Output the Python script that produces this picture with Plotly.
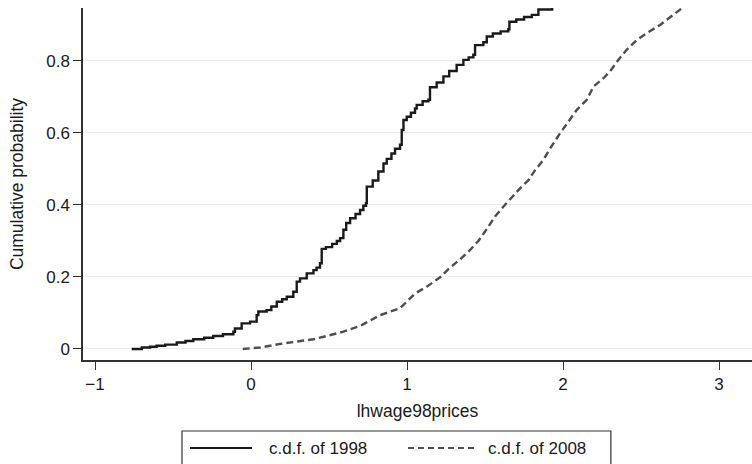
import plotly.graph_objects as go

x_1998 = [-0.765, -0.70, -0.647, -0.605, -0.55, -0.476, -0.42, -0.37, -0.30, -0.242,
          -0.18, -0.113, -0.103, -0.06, -0.006, 0.036, 0.047, 0.10, 0.13, 0.165,
          0.20, 0.229, 0.271, 0.293, 0.314, 0.357, 0.40, 0.42, 0.442, 0.453,
          0.48, 0.52, 0.55, 0.571, 0.592, 0.61, 0.635, 0.67, 0.699, 0.72, 0.737, 0.742,
          0.78, 0.816, 0.849, 0.87, 0.90, 0.923, 0.955, 0.966, 0.977, 0.998, 1.025, 1.051,
          1.062, 1.10, 1.137, 1.147, 1.19, 1.233, 1.27, 1.318, 1.361, 1.395, 1.425,
          1.436, 1.489, 1.511, 1.55, 1.60, 1.649, 1.656, 1.70, 1.75, 1.80,
          1.842, 1.93, 2.05, 2.25, 2.50]
y_1998 = [0.0, 0.004, 0.006, 0.009, 0.012, 0.018, 0.022, 0.027, 0.031, 0.036,
          0.041, 0.048, 0.057, 0.071, 0.076, 0.094, 0.104, 0.108, 0.118, 0.131,
          0.138, 0.145, 0.159, 0.187, 0.196, 0.210, 0.219, 0.226, 0.238, 0.278,
          0.283, 0.292, 0.300, 0.308, 0.331, 0.350, 0.363, 0.375, 0.386, 0.398, 0.405, 0.451,
          0.468, 0.493, 0.515, 0.528, 0.543, 0.556, 0.567, 0.608, 0.636, 0.645, 0.656, 0.668,
          0.678, 0.688, 0.692, 0.727, 0.740, 0.757, 0.772, 0.789, 0.803, 0.810, 0.817,
          0.844, 0.852, 0.868, 0.876, 0.882, 0.888, 0.909, 0.915, 0.922, 0.928,
          0.943, 0.955, 0.975, 0.99, 1.0]

x_2008 = [-0.053, 0.058, 0.186, 0.293, 0.40, 0.485, 0.592, 0.699, 0.763, 0.827,
          0.955, 0.998, 1.051, 1.126, 1.212, 1.265, 1.34, 1.404, 1.457, 1.511,
          1.564, 1.617, 1.66, 1.724, 1.778, 1.821, 1.874, 1.917, 1.981, 2.034,
          2.088, 2.152, 2.195, 2.259, 2.301, 2.355, 2.408, 2.472, 2.536, 2.622,
          2.665, 2.718, 2.761, 2.85, 3.0, 3.15]
y_2008 = [0.0, 0.004, 0.014, 0.020, 0.027, 0.036, 0.048, 0.064, 0.079, 0.094,
          0.113, 0.131, 0.154, 0.173, 0.199, 0.222, 0.249, 0.275, 0.300, 0.333,
          0.368, 0.395, 0.416, 0.446, 0.469, 0.497, 0.525, 0.557, 0.599, 0.632,
          0.664, 0.692, 0.729, 0.752, 0.771, 0.803, 0.831, 0.858, 0.877, 0.900,
          0.914, 0.932, 0.946, 0.965, 0.985, 1.0]

series_names = ["c.d.f. of 1998", "c.d.f. of 2008"]
x_ticks = [-1, 0, 1, 2, 3]
x_tick_labels = ["\u22121", "0", "1", "2", "3"]
y_ticks = [0, 0.2, 0.4, 0.6, 0.8]
y_tick_labels = ["0", "0.2", "0.4", "0.6", "0.8"]

FONT = "Liberation Sans, Arial, Helvetica, sans-serif"
INK = "#1a1a1a"
C1998 = "#1a1a1a"
C2008 = "#4d4d4d"
DASH = "7px,4px"

fig = go.Figure()
fig.add_trace(go.Scatter(
    x=x_1998, y=y_1998, mode="lines", name=series_names[0], showlegend=False,
    line=dict(color=C1998, width=2.4, shape="hv"),
))
fig.add_trace(go.Scatter(
    x=x_2008, y=y_2008, mode="lines", name=series_names[1], showlegend=False,
    line=dict(color=C2008, width=2.4, dash=DASH),
))

# ---- legend box drawn below the plot (paper coordinates)
LEG_Y = -0.250
shapes = [
    dict(type="rect", xref="paper", yref="paper", x0=0.148, x1=0.789, y0=-0.2017, y1=-0.33,
         line=dict(color="#333333", width=1.2), fillcolor="white", layer="above"),
    dict(type="line", xref="paper", yref="paper", x0=0.160, x1=0.2526, y0=LEG_Y, y1=LEG_Y,
         line=dict(color=C1998, width=2)),
    dict(type="line", xref="paper", yref="paper", x0=0.4858, x1=0.5845, y0=LEG_Y, y1=LEG_Y,
         line=dict(color=C2008, width=2, dash="6px,4px")),
]
annotations = [
    dict(xref="paper", yref="paper", x=0.275, y=LEG_Y, xanchor="left", yanchor="middle",
         text=series_names[0], showarrow=False, font=dict(family=FONT, size=17, color=INK)),
    dict(xref="paper", yref="paper", x=0.6024, y=LEG_Y, xanchor="left", yanchor="middle",
         text=series_names[1], showarrow=False, font=dict(family=FONT, size=17, color=INK)),
]

fig.update_layout(
    width=752, height=464,
    margin=dict(l=83, r=0, t=8, b=104, autoexpand=False),
    paper_bgcolor="white", plot_bgcolor="white",
    font=dict(family=FONT, size=17, color=INK),
    showlegend=False,
    shapes=shapes, annotations=annotations,
)
fig.update_xaxes(
    range=[-1.077, 3.211], tickvals=x_ticks, ticktext=x_tick_labels,
    showgrid=False, zeroline=False,
    showline=True, linecolor="#333333", linewidth=1.5,
    ticks="outside", ticklen=8, tickwidth=1.2, tickcolor="#333333",
    tickfont=dict(size=17), title=dict(text="lhwage98prices", font=dict(size=17.5), standoff=12),
)
fig.update_yaxes(
    range=[-0.0306, 0.947], tickvals=y_ticks, ticktext=y_tick_labels,
    showgrid=True, gridcolor="#ebebeb", gridwidth=1.2, zeroline=False,
    showline=True, linecolor="#333333", linewidth=1.5,
    ticks="outside", ticklen=8, tickwidth=1.2, tickcolor="#333333",
    tickfont=dict(size=17), title=dict(text="Cumulative probability", font=dict(size=17.5), standoff=18),
)

fig.write_html("out.html")
